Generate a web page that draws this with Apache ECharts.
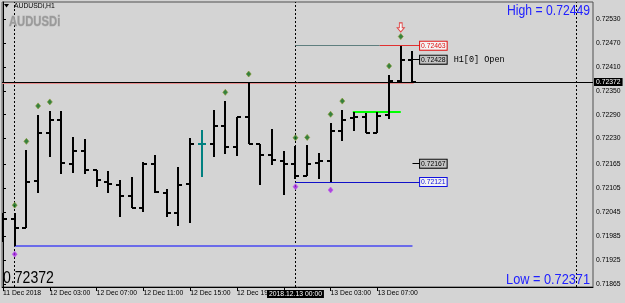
<!DOCTYPE html>
<html>
<head>
<meta charset="utf-8">
<script src="https://cdn.jsdelivr.net/npm/echarts@6/dist/echarts.min.js"></script>
<style>
html, body { margin: 0; padding: 0; background: #d4d4d4; }
#chart { width: 625px; height: 303px; }
</style>
</head>
<body>
<div id="chart"></div>
<script>
// AUDUSDi H1, bars from 11 Dec 23:00 to 13 Dec 10:00 (index = hour)
const opens = [
  0.72028, 0.72027, 0.72006, 0.72124, 0.72245, 0.72277, 0.72166, 0.72200, 0.72151, 0.72122,
  0.72114, 0.72085, 0.72056, 0.72165, 0.72094, 0.72044, 0.72116, 0.72216, 0.72216, 0.72262,
  0.72210, 0.72285, 0.72216, 0.72189, 0.72174, 0.72166, 0.72136, 0.72169, 0.72175, 0.72250,
  0.72281, 0.72285, 0.72243, 0.72289, 0.72375, 0.72428
];
const highs = [
  0.72043, 0.72044, 0.72201, 0.72289, 0.72300, 0.72300, 0.72233, 0.72228, 0.72151, 0.72149,
  0.72126, 0.72134, 0.72172, 0.72189, 0.72103, 0.72158, 0.72231, 0.72252, 0.72302, 0.72325,
  0.72285, 0.72372, 0.72216, 0.72253, 0.72200, 0.72211, 0.72214, 0.72193, 0.72269, 0.72302,
  0.72296, 0.72293, 0.72296, 0.72390, 0.72463, 0.72449
];
const lows = [
  0.71971, 0.71960, 0.72006, 0.72093, 0.72185, 0.72141, 0.72144, 0.72141, 0.72109, 0.72093,
  0.72034, 0.72055, 0.72047, 0.72093, 0.72034, 0.72011, 0.72017, 0.72134, 0.72185, 0.72191,
  0.72187, 0.72216, 0.72114, 0.72164, 0.72088, 0.72128, 0.72136, 0.72128, 0.72121, 0.72225,
  0.72250, 0.72243, 0.72243, 0.72279, 0.72371, 0.72371
];
const closes = [
  0.72027, 0.72006, 0.72122, 0.72243, 0.72277, 0.72168, 0.72200, 0.72151, 0.72126, 0.72115,
  0.72086, 0.72057, 0.72165, 0.72097, 0.72044, 0.72114, 0.72216, 0.72216, 0.72262, 0.72210,
  0.72285, 0.72216, 0.72189, 0.72176, 0.72166, 0.72136, 0.72165, 0.72175, 0.72250, 0.72277,
  0.72285, 0.72243, 0.72287, 0.72375, 0.72428, 0.72372
];

// time axis
const timeTicks = [0, 4, 8, 12, 16, 20, 24, 28, 32];
const timeLabels = ['11 Dec 2018', '12 Dec 03:00', '12 Dec 07:00', '12 Dec 11:00', '12 Dec 15:00',
  '12 Dec 19:00', '13 Dec 2018', '13 Dec 03:00', '13 Dec 07:00'];
const daySeps = [1, 25, 49];
const crossIdx = 25;
const crossLabel = '2018.12.13 00:00';
const xMin = -0.077;
const xMax = 50.43;

// price axis
const priceTicks = [0.72530, 0.72470, 0.72410, 0.72350, 0.72290, 0.72230, 0.72165, 0.72105,
  0.72045, 0.71985, 0.71925, 0.71865];
const priceMin = 0.718576;
const priceMax = 0.725727;

// fractal-like markers
const upIdx = [1, 2, 3, 4, 19, 21, 25, 26, 28, 29, 33, 34];
const upVal = [0.72063, 0.72223, 0.72312, 0.72322, 0.72346, 0.72392, 0.72232, 0.72233, 0.72291,
  0.72324, 0.72412, 0.72486];
const downIdx = [1, 25, 28];
const downVal = [0.71940, 0.72109, 0.72101];
const arrowIdx = [34];
const arrowVal = [0.72509];

// levels
const bidPrice = 0.72372;
const askLine = 0.72368;
const lowLevel = 0.71960;
const greenLevel = 0.72297;
const hiBox = 0.72463;
const openBox = 0.72428;
const midBox = 0.72167;
const loBox = 0.72121;
const dayHigh = 0.72449;
const dayLow = 0.72371;

const lastIdx = opens.length - 1;
const boxAt = lastIdx + 0.65;

const FONT = 'Liberation Sans';

function renderBar(params, api) {
  const i = api.value(0);
  const o = api.coord([i, api.value(1)]);
  const h = api.coord([i, api.value(2)]);
  const l = api.coord([i, api.value(3)]);
  const c = api.coord([i, api.value(4)]);
  const x = Math.round(h[0]);
  const color = api.value(1) === api.value(4) ? '#008080' : '#000';
  const style = {stroke: color, lineWidth: 2};
  return {
    type: 'group',
    children: [
      {type: 'line', shape: {x1: x, y1: Math.round(h[1]), x2: x, y2: Math.round(l[1])}, style},
      {type: 'line', shape: {x1: x - 4, y1: Math.round(o[1]), x2: x, y2: Math.round(o[1])}, style},
      {type: 'line', shape: {x1: x, y1: Math.round(c[1]), x2: x + 4, y2: Math.round(c[1])}, style}
    ]
  };
}

function boxLabel(v, color, bg, extra) {
  return {
    show: true,
    position: 'end',
    distance: 0,
    formatter: '{b|' + v.toFixed(5) + '}' + (extra ? '{t|' + extra + '}' : ''),
    rich: {
      b: {color: color, backgroundColor: bg, borderColor: color, borderWidth: 1,
          padding: [1, 1, 0, 1], fontSize: 6.8, fontFamily: FONT},
      t: {color: '#000', fontSize: 8.5, fontFamily: 'Liberation Mono', padding: [0, 0, 0, 7]}
    }
  };
}

function seg(from, to, v, color, width, label) {
  return [
    {coord: [from, v], lineStyle: {color: color, width: width, type: 'solid'}, label: label || {show: false}},
    {coord: [to, v]}
  ];
}

const chart = echarts.init(document.getElementById('chart'));

const barData = opens.map((o, i) => [i, o, highs[i], lows[i], closes[i]]);

const bidLabel = {
  show: true, position: 'end', distance: 1, formatter: bidPrice.toFixed(5),
  color: '#fff', backgroundColor: '#000', padding: [1, 2, 0, 2], fontSize: 6.8, fontFamily: FONT
};

const option = {
  backgroundColor: '#d4d4d4',
  animation: false,
  grid: {left: 2, right: 32, top: 2, bottom: 16, show: true, borderColor: '#505050', borderWidth: 1},
  xAxis: {
    type: 'value',
    min: xMin,
    max: xMax,
    splitLine: {show: false},
    axisLine: {show: true, lineStyle: {color: '#000', width: 1}},
    axisTick: {show: true, customValues: timeTicks, length: 4, lineStyle: {color: '#000'}},
    axisLabel: {
      customValues: timeTicks,
      formatter: (v) => timeLabels[timeTicks.indexOf(Math.round(v))] || '',
      align: 'left',
      margin: 3,
      color: '#000',
      fontSize: 6.8,
      fontFamily: FONT
    }
  },
  yAxis: {
    type: 'value',
    position: 'right',
    min: priceMin,
    max: priceMax,
    splitLine: {show: false},
    axisLine: {show: true, lineStyle: {color: '#000', width: 1}},
    axisTick: {show: true, customValues: priceTicks, length: 3, lineStyle: {color: '#000'}},
    axisLabel: {
      customValues: priceTicks,
      formatter: (v) => v.toFixed(5),
      margin: 3,
      color: '#000',
      fontSize: 6.8,
      fontFamily: FONT
    }
  },
  series: [
    {
      type: 'custom',
      renderItem: renderBar,
      clip: true,
      data: barData,
      z: 5
    },
    {
      type: 'line',
      data: [],
      silent: true,
      z: 3,
      markLine: {
        silent: true,
        symbol: 'none',
        animation: false,
        data: [
          ...daySeps.map((d) => ({xAxis: d, lineStyle: {color: '#000', width: 1, type: [2, 2]}, label: {show: false}})),
          seg(xMin, lastIdx + 0.1, askLine, '#e88c8c', 1),
          seg(xMin, xMax, bidPrice, '#000', 1, bidLabel),
          seg(1, lastIdx, lowLevel, '#6b6bea', 2),
          seg(29.9, 34, greenLevel, '#00ff00', 2),
          seg(25, 32.2, hiBox, '#5f7f7f', 1),
          seg(32.2, boxAt, hiBox, '#e03030', 1, boxLabel(hiBox, '#e01010', '#f4f4f4')),
          seg(lastIdx, boxAt, openBox, '#000', 1, boxLabel(openBox, '#000', '#c4c4c4', 'H1[0] Open')),
          seg(lastIdx, boxAt, midBox, '#000', 1, boxLabel(midBox, '#000', '#c4c4c4')),
          seg(25, boxAt, loBox, '#1010c8', 1, boxLabel(loBox, '#1010e0', '#f4f4f4'))
        ]
      }
    },
    {
      type: 'scatter',
      symbol: 'diamond',
      symbolSize: [5, 6],
      itemStyle: {color: '#0b6b1a', borderColor: '#8a9a30', borderWidth: 0.8},
      data: upIdx.map((d, i) => [d, upVal[i]]),
      z: 6
    },
    {
      type: 'scatter',
      symbol: 'diamond',
      symbolSize: [5, 6],
      itemStyle: {color: '#a020e0', borderColor: '#c060f0', borderWidth: 0.8},
      data: downIdx.map((d, i) => [d, downVal[i]]),
      z: 6
    },
    {
      type: 'scatter',
      symbol: 'path://M3,0 L7,0 L7,6 L10,6 L5,11 L0,6 L3,6 Z',
      symbolSize: [7, 9],
      itemStyle: {color: '#ffffff', borderColor: '#e02020', borderWidth: 1},
      data: arrowIdx.map((d, i) => [d, arrowVal[i]]),
      z: 6
    }
  ],
  graphic: [
    {type: 'polygon', shape: {points: [[4, 4], [9, 4], [6.5, 7.5]]}, style: {fill: '#000'}, z: 10},
    {type: 'text', x: 14, y: 6, z: 10,
     style: {text: 'AUDUSDi,H1', fill: '#000', fontSize: 6.8, fontFamily: FONT, verticalAlign: 'middle'}},
    {type: 'text', x: 9, y: 21.5, scaleX: 0.75, z: 10,
     style: {text: 'AUDUSDi', fill: '#9a9a9a', stroke: '#bcbcbc', lineWidth: 1, fontSize: 15,
             fontWeight: 'bold', fontFamily: FONT, verticalAlign: 'middle'}},
    {type: 'text', x: 590, y: 11, scaleX: 0.87, z: 10,
     style: {text: 'High = ' + dayHigh.toFixed(5), fill: '#2020ff', fontSize: 14, fontFamily: FONT,
             align: 'right', verticalAlign: 'middle'}},
    {type: 'text', x: 590, y: 280, scaleX: 0.91, z: 10,
     style: {text: 'Low = ' + dayLow.toFixed(5), fill: '#2020ff', fontSize: 14, fontFamily: FONT,
             align: 'right', verticalAlign: 'middle'}},
    {type: 'text', x: 3, y: 279, scaleX: 0.88, z: 10,
     style: {text: bidPrice.toFixed(5), fill: '#000', fontSize: 16, fontFamily: FONT, verticalAlign: 'middle'}}
  ]
};

chart.setOption(option);

// crosshair time box under the day separator
const cx = chart.convertToPixel({xAxisIndex: 0, yAxisIndex: 0}, [crossIdx, priceMin]);
chart.setOption({
  graphic: [{
    id: 'crossbox', type: 'text', x: cx[0], y: cx[1] + 7, z: 20,
    style: {text: crossLabel, fill: '#fff', backgroundColor: '#000', padding: [1, 2, 0, 2],
            fontSize: 6.8, fontFamily: FONT, align: 'center', verticalAlign: 'middle'}
  }]
});
</script>
</body>
</html>
